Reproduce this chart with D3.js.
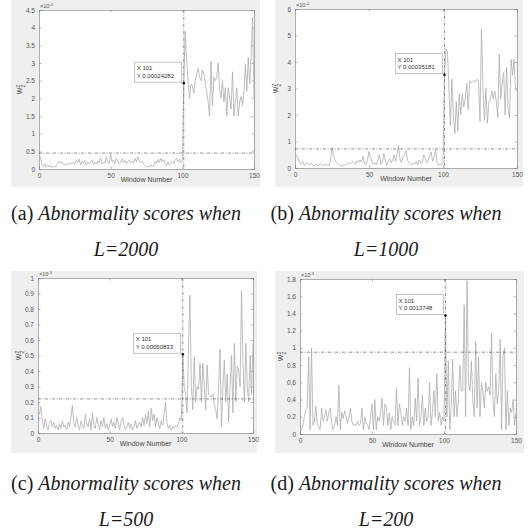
<!DOCTYPE html>
<html><head><meta charset="utf-8">
<script src="https://cdn.jsdelivr.net/npm/d3@7"></script>
<style>
html,body{margin:0;padding:0;background:#fff;}
svg{display:block;}
</style></head>
<body>
<svg id="chart" width="531" height="532"></svg>
<script>
// ---- data (values in units of the axis multiplier) ----
const windows = d3.range(1, 151);
const xTicks = [0, 50, 100, 150];

const scoresL2000 = [
0.35,0.12,0.08,0.15,0.05,0.1,0.06,0.12,0.04,0.08,0.05,0.1,0.14,0.22,0.15,0.2,0.12,0.14,0.1,0.16,
0.12,0.18,0.14,0.2,0.15,0.25,0.18,0.28,0.12,0.22,0.16,0.24,0.1,0.2,0.14,0.18,0.26,0.12,0.2,0.15,
0.22,0.18,0.3,0.14,0.2,0.16,0.35,0.2,0.15,0.42,0.2,0.25,0.16,0.3,0.22,0.15,0.2,0.28,0.18,0.24,
0.15,0.2,0.26,0.18,0.22,0.16,0.3,0.2,0.35,0.24,0.18,0.22,0.15,0.1,0.06,0.08,0.05,0.12,0.06,0.1,
0.22,0.15,0.28,0.18,0.3,0.2,0.26,0.15,0.1,0.2,0.12,0.18,0.22,0.15,0.25,0.3,0.2,0.28,0.18,0.22,
2.43,3.9,3.1,2.5,2.0,2.4,2.35,2.15,2.5,2.7,2.85,2.6,2.5,2.8,2.7,2.4,2.2,1.9,1.5,3.05,
1.8,2.6,2.5,2.6,3.0,2.3,2.0,2.5,1.9,2.3,1.5,2.3,2.0,1.7,2.75,1.5,1.9,2.3,1.5,1.9,
2.05,1.8,2.2,2.95,2.2,3.15,2.4,3.2,4.3,2.0];

const scoresL1000 = [
0.5,0.35,0.2,0.15,0.25,0.12,0.1,0.2,0.15,0.12,0.18,0.1,0.08,0.15,0.12,0.1,0.18,0.12,0.08,0.15,
0.1,0.12,0.08,0.3,0.75,0.5,0.3,0.2,0.15,0.12,0.1,0.08,0.12,0.1,0.15,0.2,0.15,0.2,0.25,0.18,
0.15,0.28,0.2,0.3,0.22,0.45,0.15,0.12,0.3,0.62,0.4,0.25,0.15,0.2,0.12,0.3,0.5,0.15,0.2,0.55,
0.3,0.1,0.25,0.35,0.2,0.3,0.5,0.25,0.55,0.85,0.3,0.2,0.4,0.5,0.65,0.3,0.2,0.15,0.12,0.2,
0.15,0.25,0.12,0.3,0.18,0.2,0.5,0.35,0.2,0.3,0.45,0.6,0.25,0.4,0.7,0.2,0.1,0.15,0.12,0.2,
3.52,4.5,4.4,3.0,1.6,3.35,2.0,1.3,2.5,1.4,2.8,2.0,2.8,2.3,2.6,3.2,2.2,3.3,3.2,3.25,
3.3,3.25,3.35,3.3,1.75,5.25,3.0,1.8,3.0,1.7,2.5,2.6,2.9,2.6,2.9,2.5,1.9,4.3,2.6,3.2,
3.6,2.0,3.8,2.2,1.9,4.1,3.5,4.1,3.0,2.9];

const scoresL500 = [
0.12,0.17,0.08,0.03,0.09,0.05,0.02,0.06,0.08,0.04,0.07,0.03,0.05,0.02,0.06,0.03,0.08,0.04,0.05,0.02,
0.07,0.04,0.1,0.18,0.06,0.04,0.1,0.05,0.02,0.08,0.05,0.03,0.12,0.06,0.04,0.09,0.02,0.13,0.05,0.03,
0.1,0.06,0.02,0.08,0.04,0.1,0.03,0.06,0.02,0.05,0.09,0.04,0.07,0.03,0.1,0.06,0.02,0.08,0.1,0.05,
0.02,0.04,0.07,0.03,0.06,0.02,0.04,0.08,0.03,0.05,0.07,0.04,0.1,0.05,0.12,0.06,0.14,0.04,0.16,0.08,
0.12,0.04,0.1,0.06,0.03,0.08,0.05,0.12,0.2,0.06,0.03,0.05,0.02,0.04,0.03,0.05,0.04,0.06,0.1,0.08,
0.508,0.3,0.25,0.13,0.55,0.89,0.3,0.15,0.49,0.2,0.3,0.28,0.45,0.2,0.45,0.3,0.15,0.44,0.25,0.24,
0.23,0.25,0.18,0.15,0.09,0.3,0.54,0.04,0.3,0.47,0.2,0.38,0.07,0.3,0.5,0.13,0.58,0.2,0.43,0.4,
0.3,0.92,0.45,0.2,0.58,0.3,0.2,0.5,0.25,0.58];

const scoresL200 = [
0.05,0.1,0.2,0.28,0.3,0.9,0.05,1.0,0.1,0.15,0.32,0.12,0.08,0.05,0.3,0.15,0.2,0.28,0.15,0.25,
0.3,0.12,0.05,0.1,0.2,0.1,0.57,0.05,0.25,0.18,0.27,0.2,0.12,0.2,0.3,0.15,0.1,0.12,0.1,0.15,
0.1,0.12,0.3,0.05,0.2,0.12,0.1,0.05,0.2,0.35,0.05,0.4,0.05,0.2,0.15,0.25,0.42,0.1,0.35,0.3,
0.1,0.25,0.05,0.2,0.15,0.1,0.53,0.1,0.35,0.25,0.1,0.2,0.15,0.3,0.1,0.77,0.05,0.2,0.1,0.42,
0.15,0.65,0.1,0.2,0.45,0.1,0.3,0.15,0.2,0.6,0.1,0.25,0.5,0.2,0.7,0.15,0.25,0.1,0.2,0.15,
1.3748,0.2,0.85,0.05,0.3,0.87,0.2,0.5,0.2,0.4,0.8,0.5,0.5,1.5,0.2,1.78,0.6,0.5,0.85,0.4,
0.2,1.07,0.3,0.9,0.2,0.6,0.5,0.3,0.6,0.5,0.55,0.45,1.17,0.4,0.2,0.7,0.35,0.5,1.1,0.05,
0.9,1.0,0.05,0.5,0.1,0.3,0.25,0.4,0.1,0.25];

const thresholds = [0.45, 0.72, 0.22, 0.95];
const yMax = [4.5, 6, 1, 1.8];
const yTickStep = [0.5, 1, 0.1, 0.2];
const exponents = ["-4", "-4", "-3", "-3"];
const tipX = [101, 101, 101, 101];
const tipLabels = ["Y 0.00024282", "Y 0.00035181", "Y 0.00050833", "Y 0.0013748"];
const captionLetters = ["(a)", "(b)", "(c)", "(d)"];
const captionLengths = ["L=2000", "L=1000", "L=500", "L=200"];
const seriesList = [scoresL2000, scoresL1000, scoresL500, scoresL200];

// ---- layout ----
const frames = [
  {bg:[11,0,249,187], ax:[39,10,254,169], cx:126, cy:220},
  {bg:[275,0,248,187], ax:[295,9,517,168], cx:386, cy:220},
  {bg:[11,271,246,182], ax:[38,278,253,433], cx:126, cy:490},
  {bg:[275,271,249,182], ax:[300,279,516,434], cx:386, cy:490}
];

const svg = d3.select("#chart");
const tickFont = "Liberation Sans, Arial, sans-serif";
const serif = "'Liberation Serif', 'Times New Roman', serif";

frames.forEach((f, i) => {
  const g = svg.append("g");
  const vals = seriesList[i];
  const [L, T, R, B] = f.ax;
  g.append("rect").attr("x", f.bg[0]).attr("y", f.bg[1]).attr("width", f.bg[2]).attr("height", f.bg[3])
    .attr("fill", "#efefef");
  g.append("rect").attr("x", L).attr("y", T).attr("width", R - L).attr("height", B - T)
    .attr("fill", "#fff");

  const x = d3.scaleLinear().domain([0, 150]).range([L, R]);
  const y = d3.scaleLinear().domain([0, yMax[i]]).range([B, T]);
  const yTicks = d3.range(0, yMax[i] + yTickStep[i] / 2, yTickStep[i]).map(v => +v.toFixed(2));

  const fmt = v => (v === 0 ? "0" : d3.format("~g")(v));

  const ax = d3.axisBottom(x).tickValues(xTicks).tickSize(-2.5).tickPadding(4).tickFormat(d3.format("d"));
  const axT = d3.axisTop(x).tickValues(xTicks).tickSize(-2.5).tickFormat("");
  const ay = d3.axisLeft(y).tickValues(yTicks).tickSize(-2.5).tickPadding(4).tickFormat(fmt);
  const ayR = d3.axisRight(y).tickValues(yTicks).tickSize(-2.5).tickFormat("");
  [[ax, `translate(0,${B})`], [axT, `translate(0,${T})`], [ay, `translate(${L},0)`], [ayR, `translate(${R},0)`]]
    .forEach(([a, tr]) => {
      const gg = g.append("g").attr("transform", tr).call(a);
      gg.select(".domain").attr("stroke", "#8a8a8a").attr("stroke-width", 0.7);
      gg.selectAll(".tick line").attr("stroke", "#8a8a8a").attr("stroke-width", 0.6);
      gg.selectAll(".tick text").attr("fill", "#555").style("font-family", tickFont).style("font-size", "6.5px");
    });

  const line = d3.line().x((d, j) => x(windows[j])).y(d => y(d));
  g.append("path").datum(vals).attr("d", line).attr("fill", "none")
    .attr("stroke", "#adadad").attr("stroke-width", 0.8).attr("stroke-linejoin", "round");

  g.append("line").attr("x1", L).attr("x2", R).attr("y1", y(thresholds[i])).attr("y2", y(thresholds[i]))
    .attr("stroke", "#444").attr("stroke-width", 0.6).attr("stroke-dasharray", "3,1.5,1,1.5");
  g.append("line").attr("x1", x(tipX[i])).attr("x2", x(tipX[i])).attr("y1", T).attr("y2", B)
    .attr("stroke", "#444").attr("stroke-width", 0.6).attr("stroke-dasharray", "3,1.5,1,1.5");

  const px = x(tipX[i]), py = y(vals[tipX[i] - 1]);
  g.append("circle").attr("cx", px).attr("cy", py).attr("r", 1.3).attr("fill", "#111");
  const bw = 47, bh = 20;
  g.append("rect").attr("x", px - 2 - bw).attr("y", py - 1 - bh).attr("width", bw).attr("height", bh)
    .attr("fill", "#fff").attr("stroke", "#999").attr("stroke-width", 0.6);
  g.append("text").attr("x", px - bw).attr("y", py - bh + 7)
    .style("font-family", tickFont).style("font-size", "6px").attr("fill", "#333").text("X " + tipX[i]);
  g.append("text").attr("x", px - bw).attr("y", py - bh + 14.5)
    .style("font-family", tickFont).style("font-size", "6px").attr("fill", "#333").text(tipLabels[i]);

  const m = g.append("text").attr("x", L + 1).attr("y", T - 2)
    .style("font-family", tickFont).style("font-size", "5.5px").attr("fill", "#555");
  m.append("tspan").text("\u00d710");
  m.append("tspan").attr("dy", -2).style("font-size", "4px").text(exponents[i]);

  g.append("text").attr("x", (L + R) / 2).attr("y", B + 13).attr("text-anchor", "middle")
    .style("font-family", tickFont).style("font-size", "7px").attr("fill", "#444").text("Window Number");
  const yl = g.append("text").attr("transform", `translate(${L - 17},${(T + B) / 2}) rotate(-90)`)
    .attr("text-anchor", "middle").style("font-family", tickFont).style("font-size", "7px").attr("fill", "#444");
  yl.append("tspan").text("W");
  yl.append("tspan").attr("dy", -2.5).style("font-size", "5px").text("2");
  yl.append("tspan").attr("dx", -2.8).attr("dy", 5).style("font-size", "5px").text("2");

  const c1 = svg.append("text").attr("x", f.cx).attr("y", f.cy).attr("text-anchor", "middle")
    .style("font-family", serif).style("font-size", "20px").attr("fill", "#1a1a1a");
  c1.append("tspan").text(captionLetters[i] + " ");
  c1.append("tspan").style("font-style", "italic").text("Abnormality scores when");
  svg.append("text").attr("x", f.cx).attr("y", f.cy + 36).attr("text-anchor", "middle")
    .style("font-family", serif).style("font-size", "20px")
    .style("font-style", "italic").attr("fill", "#1a1a1a").text(captionLengths[i]);
});
</script>
</body></html>
